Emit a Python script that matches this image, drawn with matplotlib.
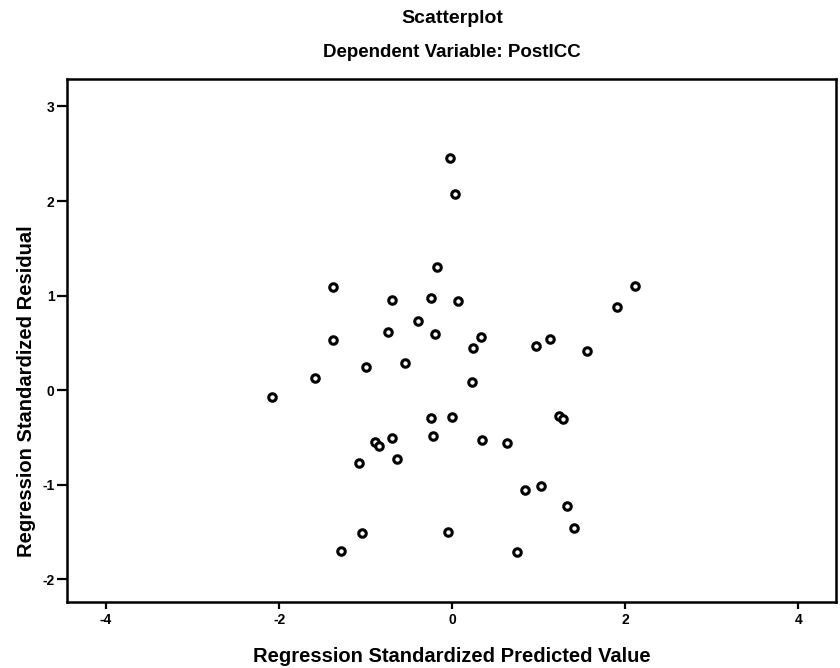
import matplotlib
matplotlib.use("Agg")
from matplotlib import pyplot as plt

# standardized predicted value (x) and standardized residual (y)
pred = [-0.02, 0.03, -0.18, -1.38, -0.70, -0.24, 0.07, -0.40, -0.74, -0.20,
        0.33, 0.24, 0.97, 1.13, -1.38, -1.00, -0.55, -1.58, 0.23, -2.08,
        -0.25, 0.00, -0.89, -0.84, -0.69, -0.22, 0.35, 0.63, 1.23, 1.28,
        -1.08, -0.64, 0.84, 1.03, 1.33, 1.41, -1.04, -0.05, -1.28, 0.75,
        2.11, 1.90, 1.56]
resid = [2.46, 2.07, 1.30, 1.09, 0.95, 0.97, 0.94, 0.73, 0.61, 0.59,
         0.56, 0.45, 0.47, 0.54, 0.53, 0.24, 0.29, 0.13, 0.09, -0.07,
         -0.29, -0.28, -0.55, -0.59, -0.51, -0.48, -0.53, -0.56, -0.27, -0.31,
         -0.77, -0.73, -1.06, -1.01, -1.23, -1.46, -1.51, -1.50, -1.70, -1.71,
         1.10, 0.88, 0.41]

xticks = [-4, -2, 0, 2, 4]
yticks = [-2, -1, 0, 1, 2, 3]

plt.rcParams['font.family'] = ['Liberation Sans', 'DejaVu Sans']
plt.rcParams['font.weight'] = 'bold'
plt.rcParams['axes.unicode_minus'] = False

fig = plt.figure(figsize=(8.4, 6.68), dpi=100)
ax = fig.add_axes([0.0798, 0.0988, 0.915, 0.7829])

ax.plot(pred, resid, 'o', ls='none', mfc='white', mec='black', ms=5.4, mew=2.2)

ax.set_xlim(-4.45, 4.43)
ax.set_ylim(-2.24, 3.29)
ax.set_xticks(xticks)
ax.set_yticks(yticks)
ax.tick_params(axis='x', length=5, width=1.6, labelsize=10, pad=3)
ax.tick_params(axis='y', length=7, width=1.6, labelsize=10, pad=2)
for s in ax.spines.values():
    s.set_linewidth(1.8)

fig.text(0.538, 0.972, 'Scatterplot', ha='center', va='center', fontsize=14, fontweight='bold')
fig.text(0.538, 0.922, 'Dependent Variable: PostICC', ha='center', va='center', fontsize=13.5, fontweight='bold')
fig.text(0.538, 0.017, 'Regression Standardized Predicted Value', ha='center', va='center', fontsize=14.5, fontweight='bold')
fig.text(0.032, 0.415, 'Regression Standardized Residual', ha='center', va='center', rotation=90, fontsize=14.5, fontweight='bold')

fig.savefig('out.png', dpi=100)
